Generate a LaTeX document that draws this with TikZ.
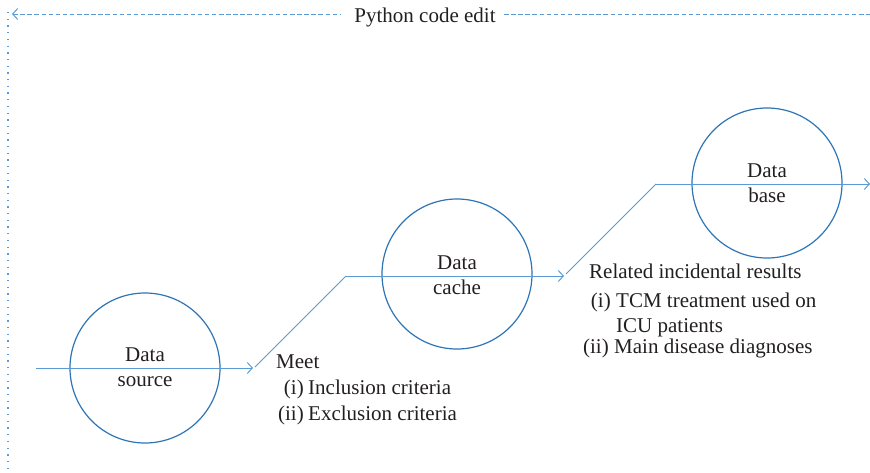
\documentclass[tikz,border=0pt]{standalone}
\usepackage{fontspec}
\setmainfont{Liberation Serif}
\usetikzlibrary{arrows.meta}
\definecolor{flowblue}{HTML}{5B9BD5}
\definecolor{ringblue}{HTML}{2E75B6}
\definecolor{inktext}{HTML}{231F20}
\begin{document}
\begin{tikzpicture}[x=1pt,y=-1pt,
  flow/.style={draw=flowblue,line width=1pt},
  tip/.style={-{Straight Barb[length=5pt,width=11pt,line width=1pt]}},
  store/.style={draw=ringblue,line width=1.2pt,circle,minimum size=150pt,inner sep=0pt},
  txt/.style={inner sep=0pt,text=inktext,font=\fontsize{21}{25}\selectfont},
  dashline/.style={draw=flowblue,line width=1pt,dash pattern=on 4.5pt off 2.6pt},
  dotline/.style={draw=flowblue,line width=1.3pt,dash pattern=on 1.3pt off 5.4pt}]
\useasboundingbox (0,0) rectangle (870,472);

% stores
\node[store] (src) at (145,368) {};
\node[store] (cache) at (457,274) {};
\node[store] (base) at (767,183) {};

% store captions
\node[txt,anchor=base] (srcA) at (145,361) {Data};
\node[txt,anchor=base] (srcB) at (145,386) {source};
\node[txt,anchor=base] (cacheA) at (457,269) {Data};
\node[txt,anchor=base] (cacheB) at (457,294) {cache};
\node[txt,anchor=base] (baseA) at (767,177) {Data};
\node[txt,anchor=base] (baseB) at (767,202) {base};

% flow path
\coordinate (in) at (36,368);
\coordinate (s1) at (253,368);
\coordinate (k1) at (255,367);
\coordinate (c1) at (346,276);
\coordinate (s2) at (564,276);
\coordinate (k2) at (566,274);
\coordinate (c2) at (656,184);
\coordinate (out) at (870,184);
\draw[flow,tip] (in) -- (s1);
\draw[flow] (k1) -- (c1);
\draw[flow,tip] (c1) -- (s2);
\draw[flow] (k2) -- (c2);
\draw[flow,tip] (c2) -- (out);

% step conditions
\node[txt,anchor=base west] (meet) at (276,368) {Meet};
\node[txt,anchor=base east] (m1n) at (304,394) {(i)};
\node[txt,anchor=base west] (m1) at (308,394) {Inclusion criteria};
\node[txt,anchor=base east] (m2n) at (304,420) {(ii)};
\node[txt,anchor=base west] (m2) at (308,420) {Exclusion criteria};

\node[txt,anchor=base west] (rel) at (589,278) {Related incidental results};
\node[txt,anchor=base east] (r1n) at (611,307) {(i)};
\node[txt,anchor=base west] (r1) at (616,307) {TCM treatment used on};
\node[txt,anchor=base west] (r1b) at (616,332) {ICU patients};
\node[txt,anchor=base east] (r2n) at (609,353) {(ii)};
\node[txt,anchor=base west] (r2) at (614,353) {Main disease diagnoses};

% loop back along the top
\node[txt,anchor=base] (loop) at (425,22) {Python code edit};
\coordinate (tl) at (12,14);
\coordinate (tm) at (341,14);
\coordinate (tn) at (504,14);
\coordinate (tr) at (870,14);
\coordinate (bl) at (8,472);
\coordinate (cl) at (8,12);
\draw[dashline] (tn) -- (tr);
\draw[dashline,{Straight Barb[length=5pt,width=11pt,line width=1pt]}-] (tl) -- (tm);
\draw[dotline] (cl) -- (bl);
\end{tikzpicture}
\end{document}
